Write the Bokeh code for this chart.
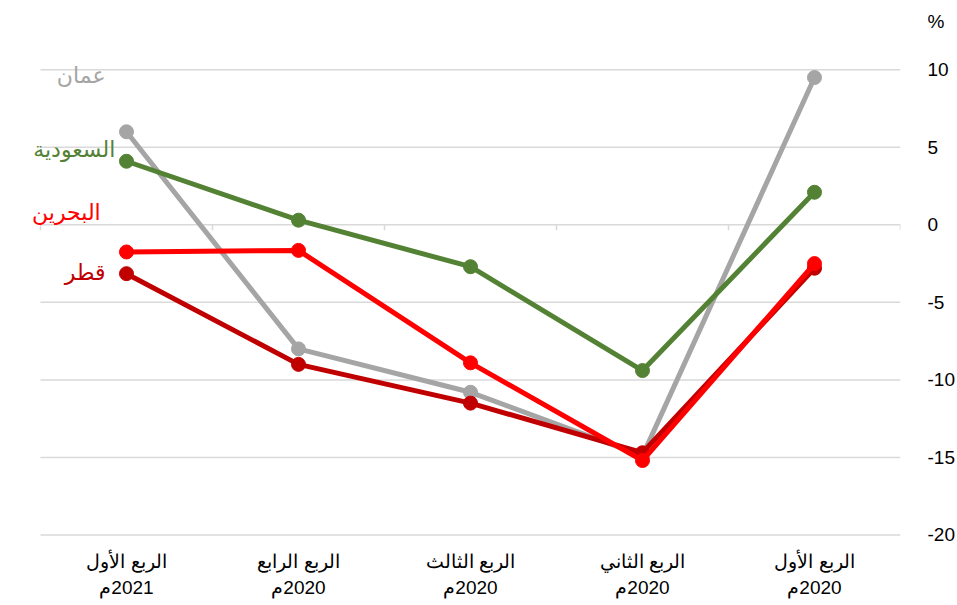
from bokeh.plotting import figure
from bokeh.models import Range1d, LinearAxis, FixedTicker, Label
from bokeh.embed import file_html
from bokeh.resources import INLINE

# Data
categories = ["الربع الأول\n\u200f2021م", "الربع الرابع\n\u200f2020م", "الربع الثالث\n\u200f2020م",
              "الربع الثاني\n\u200f2020م", "الربع الأول\n\u200f2020م"]
oman = [6.0, -8.0, -10.8, -14.9, 9.5]
saudi = [4.1, 0.3, -2.7, -9.4, 2.1]
bahrain = [-1.75, -1.65, -8.9, -15.2, -2.5]
qatar = [-3.15, -9.0, -11.5, -14.7, -2.8]
series_names = ["عمان", "السعودية", "البحرين", "قطر"]
label_y = [9.6, 4.85, 0.8, -3.1]
label_x = [0.378, 0.435, 0.35, 0.378]
y_ticks = [-20, -15, -10, -5, 0, 5, 10]
y_tick_labels = ["-20", "-15", "-10", "-5", "0", "5", "10"]
unit_label = "%"
unit_pos = 13.1

n = len(categories)
x = [i + 0.5 for i in range(n)]
bounds = list(range(n + 1))

p = figure(frame_width=892, frame_height=521, output_backend="svg", toolbar_location=None,
           x_range=Range1d(-0.186, n), y_range=Range1d(-20.1, 13.5),
           y_axis_location=None,
           min_border_left=8, min_border_right=8, min_border_top=15, min_border_bottom=5)
p.outline_line_color = None
p.background_fill_color = "white"
p.border_fill_color = "white"

# right value axis (unit sign "%" sits above the top value)
yax = LinearAxis(ticker=FixedTicker(ticks=y_ticks + [unit_pos]))
overrides = {t: s for t, s in zip(y_ticks, y_tick_labels)}
overrides[unit_pos] = unit_label
yax.major_label_overrides = overrides
yax.axis_line_color = None
yax.major_tick_line_color = None
yax.minor_tick_line_color = None
yax.major_label_standoff = 21
yax.major_label_text_font = "Liberation Sans"
yax.major_label_text_font_size = "19px"
yax.major_label_text_color = "#000000"
p.add_layout(yax, "right")

# category axis
p.xaxis.ticker = FixedTicker(ticks=x)
p.xaxis.major_label_overrides = {xi: c for xi, c in zip(x, categories)}
p.xaxis.axis_line_color = None
p.xaxis.major_tick_line_color = None
p.xaxis.minor_tick_line_color = None
p.xaxis.major_label_standoff = 8
p.xaxis.major_label_text_font = "Liberation Sans"
p.xaxis.major_label_text_font_size = "19px"
p.xaxis.major_label_text_color = "#000000"
p.xaxis.major_label_text_line_height = 1.25

p.xgrid.visible = False
p.ygrid.visible = False

# gridlines spanning the category area only
p.segment(x0=[bounds[0]] * len(y_ticks), x1=[bounds[-1]] * len(y_ticks), y0=y_ticks, y1=y_ticks,
          line_color="#D9D9D9", line_width=1.5)
# small category tick marks on the zero line
p.segment(x0=bounds, x1=bounds, y0=[0] * len(bounds), y1=[-0.35] * len(bounds),
          line_color="#D9D9D9", line_width=1.5)

colors = ["#A5A5A5", "#548235", "#FF0000", "#C00000"]
data = [oman, saudi, bahrain, qatar]
order = [0, 3, 1, 2]
for i in order:
    p.line(x, data[i], line_color=colors[i], line_width=5)
    p.scatter(x, data[i], size=14, fill_color=colors[i], line_color=colors[i])

for name, lx, ly, c in zip(series_names, label_x, label_y, colors):
    p.add_layout(Label(x=lx, y=ly, text=name, text_align="right", text_baseline="middle",
                       text_color=c, text_font="DejaVu Sans", text_font_size="22px"))

open("out.html", "w").write(file_html(p, INLINE))
